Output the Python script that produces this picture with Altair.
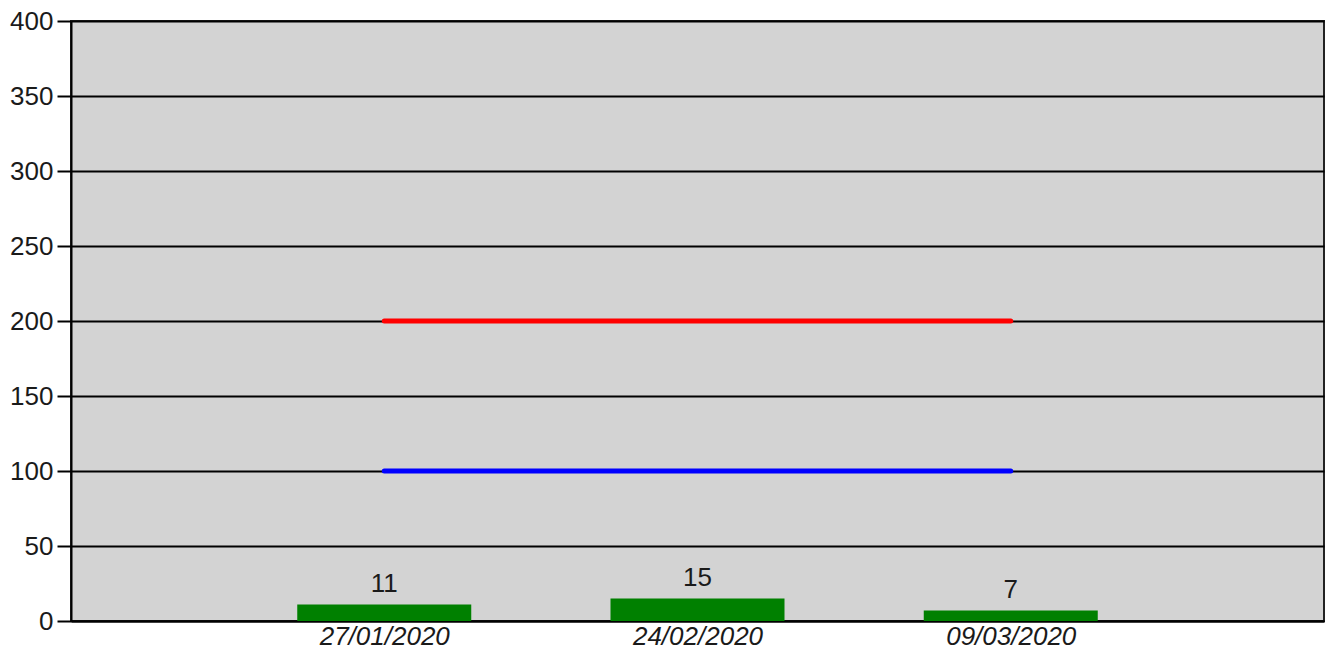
import altair as alt
import pandas as pd

dates = ["27/01/2020", "24/02/2020", "09/03/2020"]
counts = [11, 15, 7]
upper_limit = [200, 200, 200]
lower_limit = [100, 100, 100]

df = pd.DataFrame({"date": dates, "count": counts, "upper": upper_limit, "lower": lower_limit})

FONT = "Liberation Sans"
FS = 26

x = alt.X("date:N", sort=dates, scale=alt.Scale(type="point", padding=1),
          axis=alt.Axis(title=None, labelAngle=0, labelFontStyle="italic", labelFont=FONT,
                        labelFontSize=FS, labelColor="#1a1a1a", ticks=False, labelPadding=2,
                        domainColor="black", domainWidth=2, grid=False))
y_scale = alt.Scale(domain=[0, 400])
y_axis = alt.Axis(title=None, values=list(range(0, 401, 50)), labelFont=FONT, labelFontSize=FS,
                  labelColor="#1a1a1a", tickColor="black", tickSize=14, tickWidth=2, labelPadding=4,
                  domainColor="black", domainWidth=2, gridColor="black", gridWidth=2)

base = alt.Chart(df)

bars = base.mark_bar(color="#008000", size=174).encode(
    x=x, y=alt.Y("count:Q", scale=y_scale, axis=y_axis))

labels = base.mark_text(baseline="alphabetic", dy=-13, font=FONT, fontSize=FS, color="#1a1a1a").encode(
    x=x, y=alt.Y("count:Q", scale=y_scale), text="count:Q")

red = base.mark_line(color="#ff0000", strokeWidth=5, strokeCap="round").encode(
    x=x, y=alt.Y("upper:Q", scale=y_scale))
blue = base.mark_line(color="#0000ff", strokeWidth=5, strokeCap="round").encode(
    x=x, y=alt.Y("lower:Q", scale=y_scale))

chart = alt.layer(bars, red, blue, labels).properties(
    width=1253, height=600,
    padding={"left": 63, "top": 13, "right": 1, "bottom": 25},
    autosize=alt.AutoSizeParams(type="none"),
    background="white",
).configure_view(fill="#d3d3d3", stroke="#222", strokeWidth=2)

chart.save("out.html", embed_options={"renderer": "svg", "actions": False})
